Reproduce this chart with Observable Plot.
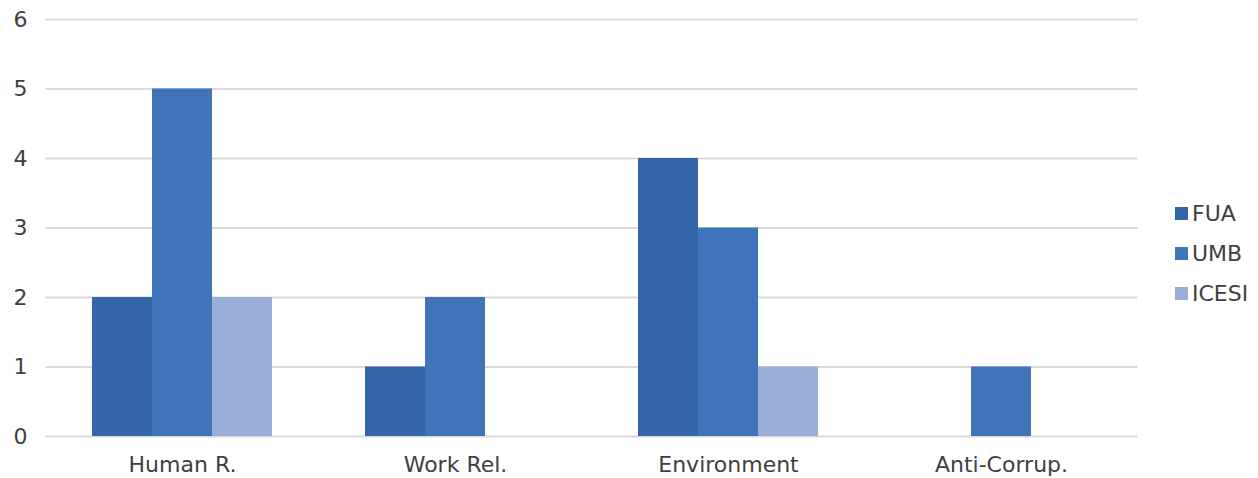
<!DOCTYPE html>
<html>
<head>
<meta charset="utf-8">
<script src="https://cdn.jsdelivr.net/npm/d3@7"></script>
<script src="https://cdn.jsdelivr.net/npm/@observablehq/plot@0.6"></script>
<style>
  html, body { margin: 0; padding: 0; background: #fff; }
  #wrap { position: relative; width: 1258px; height: 478px; font-family: "DejaVu Sans", sans-serif; }
  #legend { position: absolute; left: 1175px; top: 193px; font-size: 22px; color: #404040; }
  #legend .item { display: flex; align-items: center; height: 40px; }
  #legend .sw { width: 13px; height: 13px; margin-right: 4px; }
</style>
</head>
<body>
<div id="wrap"><div id="legend"></div></div>
<script>
const categories = ["Human R.", "Work Rel.", "Environment", "Anti-Corrup."];
const series = ["FUA", "UMB", "ICESI"];
const colors = ["#3465a8", "#3f73ba", "#9aadd6"];
const FUA = [2, 1, 4, 0];
const UMB = [5, 2, 3, 1];
const ICESI = [2, 0, 1, 0];
const yTicks = [0, 1, 2, 3, 4, 5, 6];

const values = {FUA, UMB, ICESI};
const data = [];
categories.forEach((c, i) => series.forEach(s => data.push({category: c, series: s, value: values[s][i]})));

const chart = Plot.plot({
  width: 1258,
  height: 478,
  marginLeft: 45,
  marginRight: 120,
  marginTop: 19,
  marginBottom: 42,
  style: {fontFamily: "DejaVu Sans, sans-serif", fontSize: "22px", color: "#404040", background: "#fff"},
  fx: {domain: categories, paddingInner: 1/3, paddingOuter: 1/6, label: null},
  x: {domain: series, padding: 0, axis: null},
  y: {domain: [0, 6], label: null},
  color: {domain: series, range: colors},
  marks: [
    Plot.ruleY(yTicks, {stroke: "#d9d9d9", strokeWidth: 2, insetLeft: -45.6, insetRight: -45.6}),
    Plot.barY(data, {fx: "category", x: "series", y: "value", fill: "series"}),
    Plot.axisY({ticks: yTicks, tickSize: 0, tickPadding: 64, tickFormat: d => String(d), label: null, fontSize: 22, anchor: "left"}),
    Plot.axisFx({tickSize: 0, tickPadding: 20, label: null, fontSize: 22, anchor: "bottom"})
  ]
});
document.getElementById("wrap").prepend(chart);

const legend = document.getElementById("legend");
series.forEach((s, i) => {
  const item = document.createElement("div");
  item.className = "item";
  item.innerHTML = `<div class="sw" style="background:${colors[i]}"></div><span>${s}</span>`;
  legend.appendChild(item);
});
</script>
</body>
</html>
